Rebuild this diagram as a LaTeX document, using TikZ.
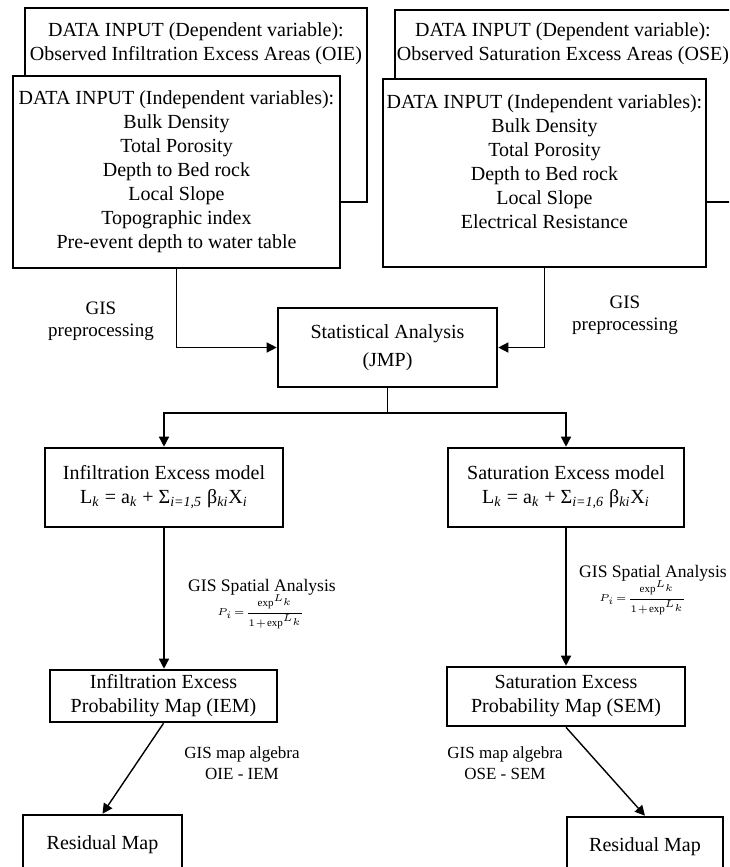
\documentclass[tikz,border=0pt]{standalone}
\usepackage{amsmath}
\usepackage{fontspec}
\setmainfont{Liberation Serif}
\usepackage{tikz}
\usetikzlibrary{arrows.meta, positioning}

\tikzset{
  box/.style={draw, line width=1.3pt, fill=white, align=center, inner sep=0pt},
  conn/.style={line width=0.7pt},
  arr/.style={conn, -{Triangle[length=5pt, width=5pt]}},
  lbl/.style={align=center, inner sep=0pt},
  steplbl/.style={lbl, font=\fontsize{9.5}{11}\selectfont},
  spatlbl/.style={lbl, font=\fontsize{8.8}{10.5}\selectfont},
  alglbl/.style={lbl, font=\fontsize{8.5}{10.5}\selectfont},
}
\newcommand{\probform}{{\fontsize{5.5}{6.5}\selectfont\thickmuskip=2mu\medmuskip=1mu
  $P_i=\displaystyle\frac{\exp^{L_k}}{1+\exp^{L_k}}$}}

\begin{document}
\begin{tikzpicture}[x=0.5pt, y=-0.5pt]
      \useasboundingbox (0,0) rectangle (729,867);
      \clip (0,0) rectangle (729,867);

      % Stage 1: data input, infiltration side
      \node[box, minimum width=171pt, minimum height=97pt] (depL) at (196,105) {};
      \node[lbl] (depLtext) at (196,44) {DATA INPUT (Dependent variable):\\Observed Infiltration Excess Areas (OIE)};
      \node[box, minimum width=163.5pt, minimum height=96pt] (indL) at (176.5,172)
        {DATA INPUT (Independent variables):\\Bulk Density\\Total Porosity\\Depth to Bed rock\\Local Slope\\Topographic index\\Pre-event depth to water table};

      % Stage 1: data input, saturation side
      \node[box, minimum width=182.5pt, minimum height=96pt] (depR) at (577.5,106) {};
      \node[lbl] (depRtext) at (563,44) {DATA INPUT (Dependent variable):\\Observed Saturation Excess Areas (OSE)};
      \node[box, minimum width=161.5pt, minimum height=94pt] (indR) at (544.5,173) {};
      \node[lbl] (indRtext) at (544.5,162)
        {DATA INPUT (Independent variables):\\Bulk Density\\Total Porosity\\Depth to Bed rock\\Local Slope\\Electrical Resistance};

      % Stage 2: statistics
      \node[box, minimum width=109.5pt, minimum height=39.5pt] (stat) at (387.5,347.5) {Statistical Analysis\\[2pt](JMP)};
      \draw[arr] (indL.south) |- (stat.west);
      \draw[arr] (indR.south) |- (stat.east);
      \node[steplbl] (prepL) at (101,321) {GIS\\preprocessing};
      \node[steplbl] (prepR) at (625,315) {GIS\\preprocessing};

      % Stage 3: logistic models
      \node[box, minimum width=119pt, minimum height=39.5pt] (infM) at (164,487.5)
        {Infiltration Excess model\\L\textsubscript{\textit{k}} = a\textsubscript{\textit{k}} + Σ\textsubscript{\textit{i=1,5}} β\textsubscript{\textit{ki}}X\textsubscript{\textit{i}}};
      \node[box, minimum width=118pt, minimum height=39.5pt] (satM) at (566,487.5)
        {Saturation Excess model\\L\textsubscript{\textit{k}} = a\textsubscript{\textit{k}} + Σ\textsubscript{\textit{i=1,6}} β\textsubscript{\textit{ki}}X\textsubscript{\textit{i}}};
      \coordinate (split) at (387.5,413);
      \draw[conn] (stat.south) -- (split);
      \draw[arr] (split) -| (infM.north);
      \draw[arr] (split) -| (satM.north);

      % Stage 4: probability maps
      \node[box, minimum width=113.5pt, minimum height=26pt] (iem) at (163.5,696) {Infiltration Excess\\Probability Map (IEM)};
      \node[box, minimum width=119pt, minimum height=29.5pt] (sem) at (566,696.5) {Saturation Excess\\Probability Map (SEM)};
      \draw[arr] (infM.south) -- (infM.south |- iem.north);
      \draw[arr] (satM.south) -- (satM.south |- sem.north);
      \node[spatlbl] (spL) at (262,587) {GIS Spatial Analysis};
      \node[lbl] (pL) at (261,612) {\probform};
      \node[spatlbl] (spR) at (653,573) {GIS Spatial Analysis};
      \node[lbl] (pR) at (643,598) {\probform};

      % Stage 5: residuals
      \node[box, minimum width=79.5pt, minimum height=30pt] (resL) at (102.5,845) {Residual Map};
      \node[box, minimum width=78pt, minimum height=30pt] (resR) at (645,847) {Residual Map};
      \draw[arr] (iem.south) -- (resL.north);
      \draw[arr] (sem.south) -- (resR.north);
      \node[alglbl] (algL) at (242,763) {GIS map algebra\\OIE - IEM};
      \node[alglbl] (algR) at (505,763) {GIS map algebra\\OSE - SEM};
\end{tikzpicture}
\end{document}
